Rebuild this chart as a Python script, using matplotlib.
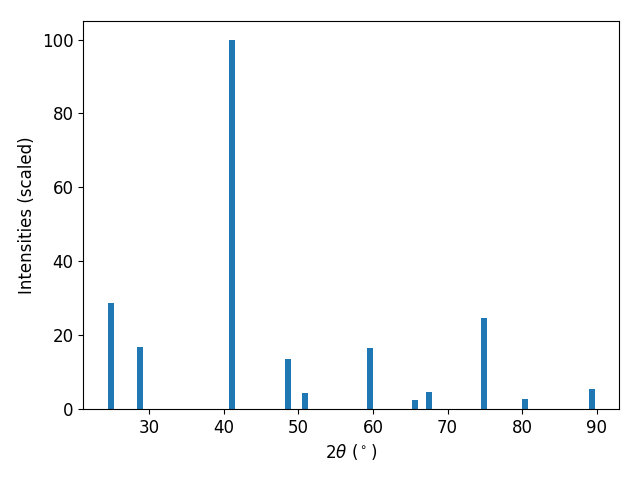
import matplotlib
matplotlib.use("Agg")
import matplotlib.pyplot as plt

two_theta = [24.8, 28.7, 41.1, 48.6, 50.9, 59.6, 65.6, 67.5, 74.9, 80.4, 89.3]
intensity = [28.6, 16.7, 100.0, 13.4, 4.4, 16.4, 2.5, 4.7, 24.5, 2.8, 5.3]

plt.rcParams['font.size'] = 12
fig, ax = plt.subplots(figsize=(6.4, 4.8), dpi=100)
ax.bar(two_theta, intensity, width=0.8, color='#1f77b4')
ax.set_xlabel(r'2$\theta$ ($^\circ$)')
ax.set_ylabel('Intensities (scaled)')
fig.subplots_adjust(left=0.130, right=0.967, top=0.956, bottom=0.148)
fig.savefig('out.png')
